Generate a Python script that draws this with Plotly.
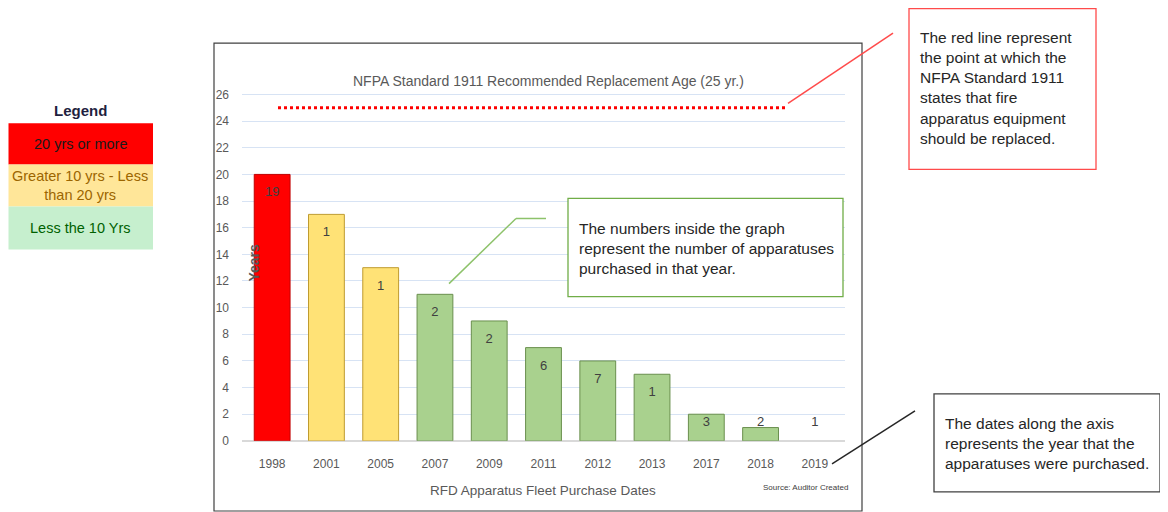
import plotly.graph_objects as go

# Datos
years = ['1998', '2001', '2005', '2007', '2009', '2011', '2012', '2013', '2017', '2018', '2019']
age = [20, 17, 13, 11, 9, 7, 6, 5, 2, 1, 0]
units = [19, 1, 1, 2, 2, 6, 7, 1, 3, 2, 1]
nfpa_age = 25

legend_labels = ['20 yrs or more', 'Greater 10 yrs - Less<br>than 20 yrs', 'Less the 10 Yrs']

# Margen de 8px del body y captura comprimida en vertical (520 -> 512)
OFF = 8
SY = 520 / 512
W, H = 1168 - OFF, 512
FONT = 'Liberation Sans, Arial'
GRAY = '#595959'


def px(x):
    x = min(max(x, OFF + 0.5), OFF + W - 0.5)
    return (x - OFF) / W


def py(y):
    y = min(max(y * SY, OFF + 0.5), 519.5)
    return 1 - (y - OFF) / H


def bar_color(a):
    if a >= 20:
        return '#FF0000'
    if a > 11:
        return '#FFE276'
    return '#A9D18E'


def bar_line(a):
    if a >= 20:
        return '#C00000'
    if a > 11:
        return '#BF9B30'
    return '#6A8F4E'


fig = go.Figure()

# Barras: edad del equipo
fig.add_trace(go.Bar(
    x=years,
    y=age,
    marker=dict(color=[bar_color(a) for a in age],
                line=dict(color=[bar_line(a) if a > 0 else 'rgba(0,0,0,0)' for a in age], width=1)),
    hoverinfo='x+y',
    showlegend=False
))

# Etiquetas: número de aparatos comprados
fig.add_trace(go.Scatter(
    x=years,
    y=[max(a - 1.4, 1.35) for a in age],
    mode='text',
    text=[str(u) for u in units],
    textfont=dict(family=FONT, size=13, color='#404040'),
    hoverinfo='skip',
    showlegend=False
))

y_top = 28
y0_px, unit_px = 440, 13.3
fig.update_layout(
    width=W, height=H,
    margin=dict(l=0, r=0, t=0, b=0),
    paper_bgcolor='white',
    plot_bgcolor='white',
    font=dict(family=FONT, color=GRAY, size=12),
    bargap=0.34,
    xaxis=dict(domain=[px(242), px(845)], showgrid=False, ticks='',
               tickfont=dict(size=12, color=GRAY), showline=False, zeroline=False,
               ticklabelstandoff=14),
    yaxis=dict(domain=[py(y0_px), py(y0_px - y_top * unit_px)], range=[0, y_top],
               tickvals=list(range(0, 27, 2)), showgrid=True, gridcolor='#D7E3F4',
               gridwidth=1, zeroline=True, zerolinecolor='#D9D9D9', zerolinewidth=1.5,
               tickfont=dict(size=12, color=GRAY), ticklabelstandoff=12),
)

shapes = []
annotations = []

# Marco del gráfico
shapes.append(dict(type='rect', xref='paper', yref='paper', x0=px(214), x1=px(862),
                   y0=py(510), y1=py(43), line=dict(color='#404040', width=1.2)))

# Línea roja NFPA
shapes.append(dict(type='line', xref='paper', yref='y', x0=px(278), x1=px(788),
                   y0=nfpa_age, y1=nfpa_age, line=dict(color='#FF0000', width=3, dash='dot')))

annotations += [
    dict(text='NFPA Standard 1911 Recommended Replacement Age (25 yr.)', x=px(548), y=py(81),
         font=dict(size=14, color=GRAY)),
    dict(text='<b>Years</b>', x=px(254), y=py(262), textangle=-90, font=dict(size=14, color=GRAY)),
    dict(text='RFD Apparatus Fleet Purchase Dates', x=px(543), y=py(490),
         font=dict(size=13.5, color=GRAY)),
    dict(text='Source: Auditor Created', x=px(805), y=py(487), font=dict(size=8, color='#404040')),
]

# Leyenda manual
annotations.append(dict(text='<b>Legend</b>', x=px(80), y=py(110), font=dict(size=15, color='#1F1F3F')))
leg_fill = ['#FF0000', '#FFE699', '#C6EFCE']
leg_font = ['#1A1A1A', '#9C6500', '#006100']
leg_y = [(123, 164), (164, 206), (206, 249)]
for lab, fc, tc, (a, b) in zip(legend_labels, leg_fill, leg_font, leg_y):
    shapes.append(dict(type='rect', xref='paper', yref='paper', x0=px(8), x1=px(153),
                       y0=py(b), y1=py(a), fillcolor=fc, line=dict(width=0), layer='below'))
    annotations.append(dict(text=lab, x=px(80), y=py((a + b) / 2),
                            font=dict(size=14.5, color=tc)))

# Cuadros de explicación
boxes = [
    ('The red line represent<br>the point at which the<br>NFPA Standard 1911<br>states that fire<br>'
     'apparatus equipment<br>should be replaced.', (909, 4, 1096, 169), '#FF4B4B'),
    ('The numbers inside the graph<br>represent the number of apparatuses<br>purchased in that year.',
     (568, 198, 843, 296), '#70AD47'),
    ('The dates along the axis<br>represents the year that the<br>apparatuses were purchased.',
     (934, 393, 1160, 491), '#404040'),
]
for txt, (x0, y0, x1, y1), col in boxes:
    shapes.append(dict(type='rect', xref='paper', yref='paper', x0=px(x0), x1=px(x1),
                       y0=py(y1), y1=py(y0), fillcolor='white', line=dict(color=col, width=1.3)))
    annotations.append(dict(text=txt, x=px(x0 + 9), y=py((y0 + y1) / 2 + 1), xanchor='left',
                            align='left', font=dict(size=15.5, color='#262626')))

# Conectores
connectors = [
    ([(788, 103), (893, 33)], '#FF4B4B'),
    ([(449, 283), (516, 218), (546, 218)], '#8DC26A'),
    ([(832, 463), (915, 410)], '#262626'),
]
for pts, col in connectors:
    for (xa, ya), (xb, yb) in zip(pts[:-1], pts[1:]):
        shapes.append(dict(type='line', xref='paper', yref='paper', x0=px(xa), y0=py(ya),
                           x1=px(xb), y1=py(yb), line=dict(color=col, width=1.5)))

for a in annotations:
    a.setdefault('xref', 'paper')
    a.setdefault('yref', 'paper')
    a.setdefault('xanchor', 'center')
    a.setdefault('yanchor', 'middle')
    a.setdefault('showarrow', False)

fig.update_layout(shapes=shapes, annotations=annotations)

fig.write_html("out.html")
